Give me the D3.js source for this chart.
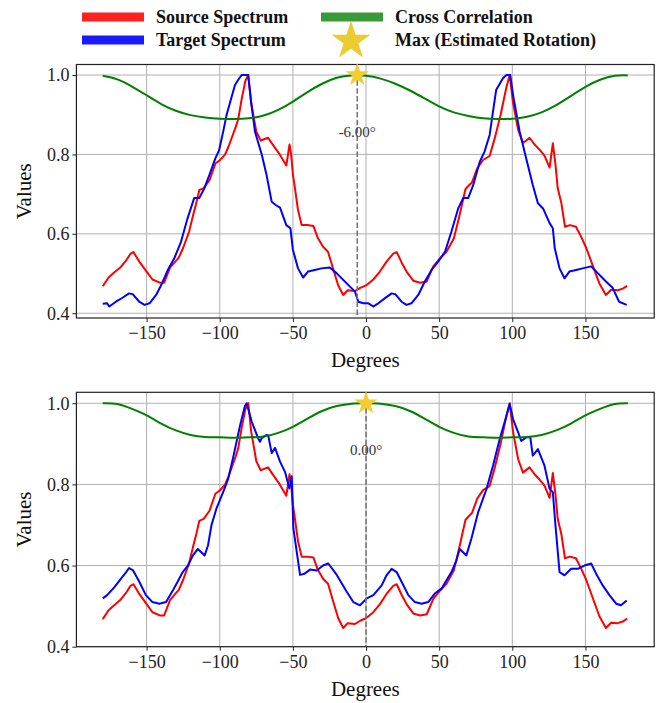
<!DOCTYPE html>
<html><head><meta charset="utf-8">
<script src="https://cdn.jsdelivr.net/npm/d3@7/dist/d3.min.js"></script>
<style>body{margin:0;background:#fff}svg{display:block}</style>
</head><body>
<svg id="c" width="659" height="703"></svg>
<script>
// ---------- DATA ----------
const xTicks = [-150, -100, -50, 0, 50, 100, 150];
const yTicks = [0.4, 0.6, 0.8, 1.0];

// Source spectrum (same in both panels)
const srcDeg = [-180,-176,-172,-168,-164,-161,-159,-155,-150,-146,-141,-138,-134,-130,-128,-125,-121,-118,-116,-114,-111,-107,-103,-100,-96.3,-94,-89,-87.3,-85,-82.5,-80.5,-78.5,-75,-72,-67,-64,-59,-54.5,-52.3,-51.2,-50,-48.6,-46.5,-44,-40,-36,-33,-29.5,-26,-22.5,-19,-15.6,-12.5,-7.6,-4,
  0,5,9.5,14,18.6,21,24.3,27.7,32.3,37,41.5,46,50.5,55,60,63.5,68,72.5,76,80,84.5,88,92,96,98.2,100.5,104,107.3,111.8,115.2,118.6,122,125.5,127.7,129.5,131,133.5,136,139.5,143.5,147,150.5,155,159.5,164,167.5,172,175.5,178.5];
const srcVal = [0.468,0.490,0.503,0.515,0.533,0.550,0.554,0.530,0.505,0.485,0.477,0.477,0.515,0.532,0.540,0.565,0.605,0.650,0.678,0.710,0.715,0.735,0.777,0.785,0.800,0.820,0.870,0.890,0.940,0.985,1.0,0.93,0.857,0.835,0.842,0.826,0.800,0.772,0.825,0.80,0.750,0.715,0.660,0.622,0.622,0.620,0.590,0.568,0.555,0.512,0.470,0.446,0.458,0.456,0.464,
  0.470,0.485,0.505,0.530,0.550,0.554,0.528,0.505,0.482,0.477,0.480,0.518,0.538,0.555,0.588,0.640,0.713,0.730,0.765,0.786,0.796,0.841,0.900,0.970,1.0,0.930,0.862,0.829,0.842,0.825,0.812,0.797,0.767,0.828,0.775,0.716,0.678,0.618,0.622,0.618,0.593,0.565,0.520,0.475,0.446,0.459,0.458,0.462,0.469];

// Target spectrum, top panel (rotated)
const tgtTopDeg = [-180,-177,-175.5,-171,-166.5,-162,-159.5,-155,-151.5,-148,-143.5,-140,-135.5,-131,-126.5,-122,-117.5,-114,-110.5,-107,-103,-100.5,-97.5,-95.3,-93,-89.6,-87,-85,-80.6,-78.5,-75.9,-71.3,-68,-64.5,-61.5,-58.8,-54.5,-51.7,-50,-46.5,-43,-39.7,-35,-30.5,-24.8,-20.2,-15.6,-11,-7.6,-5.3,-1.8,
  1.6,5,8.4,13,17.5,20,24.3,27.7,31,35.7,40.2,44.8,49.3,54,58.4,63,66.4,69.8,73.2,77.7,81,84.5,86.8,89,93.6,96,98.6,100.5,105,109.5,114,117.5,121,125.5,127.7,129,132.3,135.7,139,143.6,148,153.9,158.4,164,168.6,173,178.2];
const tgtTopVal = [0.424,0.425,0.417,0.429,0.439,0.450,0.448,0.429,0.421,0.425,0.446,0.471,0.509,0.539,0.580,0.639,0.690,0.690,0.715,0.749,0.790,0.810,0.860,0.900,0.930,0.975,0.990,1.0,1.0,0.930,0.857,0.800,0.748,0.681,0.672,0.666,0.622,0.614,0.560,0.513,0.490,0.505,0.509,0.513,0.515,0.501,0.484,0.467,0.455,0.429,0.425,
  0.425,0.417,0.425,0.438,0.450,0.448,0.429,0.421,0.425,0.446,0.480,0.509,0.530,0.555,0.606,0.664,0.690,0.690,0.722,0.781,0.807,0.849,0.908,0.963,0.992,1.0,1.0,0.950,0.858,0.790,0.723,0.677,0.664,0.627,0.614,0.564,0.513,0.488,0.505,0.509,0.513,0.518,0.501,0.480,0.464,0.429,0.421];

// Target spectrum, bottom panel (not rotated)
const tgtBotDeg = [-180,-177,-172,-167.5,-164,-162,-159.2,-155,-150.5,-146,-141.3,-136.7,-132,-128.8,-125.3,-121.8,-118.3,-115,-110.3,-108,-105.7,-102.3,-97.7,-94.3,-90.8,-86.2,-82.8,-81.6,-78.2,-73.8,-72.5,-71.3,-67.9,-66.8,-64.5,-62.2,-58.8,-55.4,-52.4,-50.8,-49.7,-45.1,-42,-38.3,-33.7,-29.4,-25.8,-20,-13.3,-8.7,-4.1,
  0.5,5,10.7,14,17.5,20.9,24.3,28.9,33.4,38,42.5,47,51.6,55,58.4,61.8,64,68.6,72,76.6,82.3,86.8,91.4,96,98.2,100.5,104,106.1,109.5,112.3,114,117.5,122,125.5,127.7,129.5,132.3,135.7,140.2,144.8,149.3,153.9,157.3,161.8,166.4,171,174.3,178.2];
const tgtBotVal = [0.519,0.527,0.547,0.568,0.584,0.594,0.588,0.560,0.527,0.510,0.506,0.510,0.539,0.560,0.584,0.600,0.625,0.641,0.625,0.650,0.699,0.740,0.781,0.813,0.867,0.944,0.993,1.0,0.955,0.914,0.905,0.914,0.922,0.920,0.877,0.890,0.856,0.831,0.790,0.820,0.692,0.577,0.580,0.590,0.588,0.600,0.605,0.577,0.536,0.510,0.502,
  0.519,0.527,0.551,0.576,0.592,0.584,0.560,0.527,0.510,0.506,0.510,0.531,0.543,0.564,0.584,0.613,0.641,0.625,0.666,0.731,0.788,0.846,0.912,0.969,0.998,0.961,0.928,0.907,0.916,0.916,0.871,0.887,0.846,0.789,0.781,0.699,0.584,0.576,0.592,0.592,0.600,0.605,0.580,0.551,0.527,0.506,0.502,0.514];

// Cross correlation
const corrDeg = [-180,-170,-160,-150,-140,-130,-120,-110,-100,-90,-80,-70,-60,-50,-40,-30,-20,-10,0,10,20,30,40,50,60,70,80,90,100,110,120,130,140,150,160,170,179];
const corrTopVal = [0.998,0.989,0.971,0.949,0.927,0.910,0.899,0.893,0.890,0.889,0.891,0.898,0.912,0.933,0.957,0.978,0.993,0.999,0.998,0.991,0.978,0.961,0.941,0.921,0.906,0.897,0.891,0.889,0.890,0.895,0.906,0.924,0.947,0.970,0.988,0.998,0.999];
const corrBotVal = [1.0,0.998,0.986,0.970,0.950,0.933,0.922,0.917,0.916,0.915,0.916,0.918,0.927,0.942,0.962,0.981,0.993,0.999,1.0,0.999,0.993,0.981,0.962,0.942,0.927,0.918,0.916,0.915,0.916,0.917,0.922,0.933,0.950,0.970,0.986,0.998,1.0];

const peakTop = -6.00, peakBot = 0.00;
const legendLabels = ["Source Spectrum", "Target Spectrum", "Cross Correlation", "Max (Estimated Rotation)"];

// ---------- DRAW ----------
const svg = d3.select("#c");
const FONT = "'Liberation Serif','Times New Roman',serif";
const x = d3.scaleLinear().domain([-198, 197]).range([76.4, 654.2]);

function panel(y0, y1, yDomain, tgtDeg, tgtVal, corrVal, peak, labelVal) {
  const y = d3.scaleLinear().domain(yDomain).range([y1, y0]);
  const g = svg.append("g");
  g.selectAll(null).data(xTicks).enter().append("line")
    .attr("x1", d => x(d)).attr("x2", d => x(d)).attr("y1", y0).attr("y2", y1)
    .attr("stroke", "#b0b0b0").attr("stroke-width", 1);
  g.selectAll(null).data(yTicks).enter().append("line")
    .attr("x1", x.range()[0]).attr("x2", x.range()[1]).attr("y1", d => y(d)).attr("y2", d => y(d))
    .attr("stroke", "#b0b0b0").attr("stroke-width", 1);
  const xa = g.append("g").attr("transform", `translate(0,${y1})`)
    .call(d3.axisBottom(x).tickValues(xTicks).tickSize(4).tickPadding(3).tickFormat(d => d3.format("d")(d).replace("-", "\u2212")));
  const ya = g.append("g").attr("transform", `translate(${x.range()[0]},0)`)
    .call(d3.axisLeft(y).tickValues(yTicks).tickSize(4).tickPadding(3).tickFormat(d3.format(".1f")));
  [xa, ya].forEach(a => {
    a.select(".domain").remove();
    a.selectAll("line").attr("stroke", "#222");
    a.selectAll("text").attr("font-family", FONT).attr("font-size", 18).attr("fill", "#222");
  });
  xa.selectAll("text").attr("dy", "0.78em");
  g.append("rect").attr("x", x.range()[0]).attr("y", y0)
    .attr("width", x.range()[1] - x.range()[0]).attr("height", y1 - y0)
    .attr("fill", "none").attr("stroke", "#222").attr("stroke-width", 1.2);

  const clip = "clip" + Math.round(y0);
  svg.append("clipPath").attr("id", clip).append("rect")
    .attr("x", x.range()[0]).attr("y", y0).attr("width", x.range()[1] - x.range()[0]).attr("height", y1 - y0);
  const pg = g.append("g").attr("clip-path", `url(#${clip})`);

  const line = d3.line().x(d => x(d[0])).y(d => y(d[1]));
  pg.append("path").datum(d3.zip(srcDeg, srcVal)).attr("d", line)
    .attr("fill", "none").attr("stroke", "#ff0000").attr("stroke-width", 2).attr("stroke-linejoin", "round");
  pg.append("path").datum(d3.zip(tgtDeg, tgtVal)).attr("d", line)
    .attr("fill", "none").attr("stroke", "#0000ff").attr("stroke-width", 2).attr("stroke-linejoin", "round");
  const smooth = d3.line().x(d => x(d[0])).y(d => y(d[1])).curve(d3.curveNatural);
  pg.append("path").datum(d3.zip(corrDeg, corrVal)).attr("d", smooth)
    .attr("fill", "none").attr("stroke", "#008000").attr("stroke-width", 2);
  pg.append("line").attr("x1", x(peak)).attr("x2", x(peak)).attr("y1", y0).attr("y2", y1)
    .attr("stroke", "#777").attr("stroke-width", 1.6).attr("stroke-dasharray", "5.5,2.4");
  g.append("path").attr("d", d3.symbol(d3.symbolStar, 170)())
    .attr("transform", `translate(${x(peak)},${y(1.0)})`).attr("fill", "#f2cd2c");
  g.append("text").attr("x", x(peak)).attr("y", y(labelVal)).attr("text-anchor", "middle")
    .attr("dominant-baseline", "central")
    .attr("font-family", FONT).attr("font-size", 15).attr("fill", "#333")
    .text(peak.toFixed(2) + "\u00b0");
  g.append("text").attr("x", (x.range()[0] + x.range()[1]) / 2).attr("y", y1 + 49)
    .attr("text-anchor", "middle").attr("font-family", FONT).attr("font-size", 21).attr("fill", "#111")
    .text("Degrees");
  g.append("text").attr("transform", `translate(31,${(y0 + y1) / 2}) rotate(-90)`)
    .attr("text-anchor", "middle").attr("font-family", FONT).attr("font-size", 21).attr("fill", "#111")
    .text("Values");
}

panel(64.5, 318, [0.388, 1.0265], tgtTopDeg, tgtTopVal, corrTopVal, peakTop, 0.857);
panel(392.3, 646.7, [0.4, 1.027], tgtBotDeg, tgtBotVal, corrBotVal, peakBot, 0.886);

// legend
const lg = svg.append("g");
const handles = [
  {c: "#ff2020", x: 82, y: 17},
  {c: "#1a1aff", x: 82, y: 40},
  {c: "#3a9a3a", x: 321, y: 17}
];
handles.forEach(h => {
  lg.append("line").attr("x1", h.x).attr("x2", h.x + 62).attr("y1", h.y).attr("y2", h.y)
    .attr("stroke", h.c).attr("stroke-width", 9);
});
lg.append("path").attr("d", d3.symbol(d3.symbolStar, 470)()).attr("transform", "translate(351,41)").attr("fill", "#ebcc30");
[[legendLabels[0], 156, 17], [legendLabels[1], 156, 40], [legendLabels[2], 395, 17], [legendLabels[3], 395, 40]].forEach(([t, tx, ty]) => {
  lg.append("text").attr("x", tx).attr("y", ty).attr("dominant-baseline", "central")
    .attr("font-family", FONT).attr("font-weight", "bold").attr("font-size", 18).attr("fill", "#111").text(t);
});
</script>
</body></html>
